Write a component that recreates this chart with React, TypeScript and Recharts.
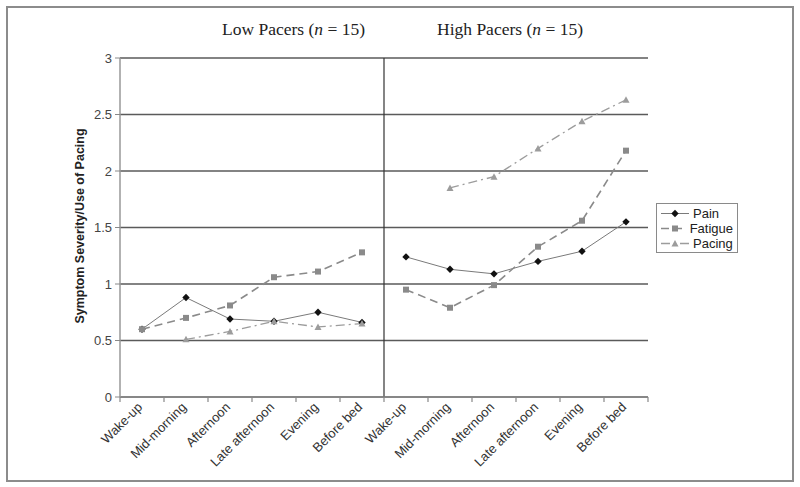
import * as React from "react";
import {
  LineChart,
  Line,
  XAxis,
  YAxis,
  CartesianGrid,
  ReferenceLine,
  Legend,
} from "recharts";

// times of day, repeated for each pacing group
const times = [
  "Wake-up",
  "Mid-morning",
  "Afternoon",
  "Late afternoon",
  "Evening",
  "Before bed",
];

const painLow = [0.6, 0.88, 0.69, 0.67, 0.75, 0.66];
const fatigueLow = [0.6, 0.7, 0.81, 1.06, 1.11, 1.28];
const pacingLow = [null, 0.51, 0.58, 0.67, 0.62, 0.65];

const painHigh = [1.24, 1.13, 1.09, 1.2, 1.29, 1.55];
const fatigueHigh = [0.95, 0.79, 0.99, 1.33, 1.56, 2.18];
const pacingHigh = [null, 1.85, 1.95, 2.2, 2.44, 2.63];

const yTicks = [0, 0.5, 1, 1.5, 2, 2.5, 3];

const allLabels = [...times, ...times];
// label ticks sit at the middle of each category, tick marks between them
const xTicks = Array.from({ length: 25 }, (_, i) => i / 2);

const data = allLabels.map((label, i) => {
  const low = i < times.length;
  const j = low ? i : i - times.length;
  return {
    x: i + 0.5,
    label,
    painL: low ? painLow[j] : null,
    fatigueL: low ? fatigueLow[j] : null,
    pacingL: low ? pacingLow[j] : null,
    painH: low ? null : painHigh[j],
    fatigueH: low ? null : fatigueHigh[j],
    pacingH: low ? null : pacingHigh[j],
  };
});

const SANS = "'Liberation Sans', Arial, sans-serif";
const SERIF = "'Liberation Serif', 'Times New Roman', serif";

const PAIN = { line: "#7a7a7a", mark: "#111111", dash: undefined as string | undefined, width: 1 };
const FATIGUE = { line: "#8a8a8a", mark: "#8a8a8a", dash: "8 5", width: 1.6 };
const PACING = { line: "#9c9c9c", mark: "#9c9c9c", dash: "9 4 2 4", width: 1.3 };

function diamond(props: any) {
  const { cx, cy, index } = props;
  if (cx == null || cy == null || props.value == null) return <g key={index} />;
  return (
    <path
      key={index}
      d={`M${cx},${cy - 3.7}L${cx + 3.7},${cy}L${cx},${cy + 3.7}L${cx - 3.7},${cy}Z`}
      fill={PAIN.mark}
    />
  );
}

function square(props: any) {
  const { cx, cy, index } = props;
  if (cx == null || cy == null || props.value == null) return <g key={index} />;
  return <rect key={index} x={cx - 3} y={cy - 3} width={6} height={6} fill={FATIGUE.mark} />;
}

function triangle(props: any) {
  const { cx, cy, index } = props;
  if (cx == null || cy == null || props.value == null) return <g key={index} />;
  return (
    <path
      key={index}
      d={`M${cx},${cy - 3.5}L${cx + 3.5},${cy + 3}L${cx - 3.5},${cy + 3}Z`}
      fill={PACING.mark}
    />
  );
}

function XTick(props: any) {
  const { x, y, payload } = props;
  const v = payload.value as number;
  if (Number.isInteger(v)) {
    return <line x1={x} y1={y} x2={x} y2={y + 5} stroke="#888" strokeWidth={1.2} />;
  }
  const label = allLabels[Math.floor(v)];
  return (
    <text
      x={x + 1}
      y={y + 11}
      transform={`rotate(-45, ${x + 1}, ${y + 11})`}
      textAnchor="end"
      fontFamily={SANS}
      fontSize={13}
      fill="#333"
    >
      {label}
    </text>
  );
}

const legendItems = [
  { name: "Pain", s: PAIN, marker: "diamond" },
  { name: "Fatigue", s: FATIGUE, marker: "square" },
  { name: "Pacing", s: PACING, marker: "triangle" },
];

function LegendBox() {
  return (
    <div
      style={{
        border: "1px solid #8a8a8a",
        background: "#fff",
        padding: "2px 4px 1px 3px",
        fontFamily: SANS,
        fontSize: 13,
        color: "#222",
        lineHeight: "15px",
      }}
    >
      {legendItems.map((it) => (
        <div key={it.name} style={{ display: "flex", alignItems: "center" }}>
          <svg width={30} height={15} style={{ marginRight: 3 }}>
            <line
              x1={1}
              y1={7.5}
              x2={29}
              y2={7.5}
              stroke={it.s.line}
              strokeWidth={it.s.width}
              strokeDasharray={it.s.dash}
            />
            {it.marker === "diamond" &&
              diamond({ cx: 15, cy: 7.5, value: 1, index: 0 })}
            {it.marker === "square" &&
              square({ cx: 15, cy: 7.5, value: 1, index: 0 })}
            {it.marker === "triangle" &&
              triangle({ cx: 15, cy: 7.5, value: 1, index: 0 })}
          </svg>
          <span>{it.name}</span>
        </div>
      ))}
    </div>
  );
}

export default function App() {
  return (
    <div
      style={{
        position: "absolute",
        left: 0,
        top: 0,
        width: 800,
        height: 487,
        background: "#fff",
      }}
    >
      <div
        style={{
          position: "absolute",
          left: 6,
          top: 6,
          width: 784,
          height: 472,
          border: "2px solid #8c8c8c",
        }}
      />
      <div
        style={{
          position: "absolute",
          left: 0,
          top: 19,
          width: 800,
          fontFamily: SERIF,
          fontSize: 17.5,
          color: "#222",
        }}
      >
        <span style={{ position: "absolute", left: 222 }}>
          Low Pacers (<i>n</i> = 15)
        </span>
        <span style={{ position: "absolute", left: 437 }}>
          High Pacers (<i>n</i> = 15)
        </span>
      </div>
      <LineChart
        width={800}
        height={487}
        data={data}
        margin={{ top: 58, right: 152, bottom: 30, left: 60 }}
        style={{ position: "absolute", left: 0, top: 0 }}
      >
        <CartesianGrid
          horizontal
          vertical={false}
          stroke="#5a5a5a"
          strokeWidth={1.3}
        />
        <XAxis
          dataKey="x"
          type="number"
          domain={[0, 12]}
          ticks={xTicks}
          interval={0}
          height={60}
          tickLine={false}
          tickSize={0}
          tickMargin={0}
          axisLine={{ stroke: "#888", strokeWidth: 1.5 }}
          tick={<XTick />}
        />
        <YAxis
          domain={[0, 3]}
          ticks={yTicks}
          width={60}
          tickSize={5}
          tickMargin={3}
          axisLine={{ stroke: "#999", strokeWidth: 1.5 }}
          tickLine={{ stroke: "#888" }}
          tick={{ fontFamily: SANS, fontSize: 13, fill: "#444" }}
          label={{
            content: () => (
              <text
                x={84}
                y={226}
                transform="rotate(-90, 84, 226)"
                textAnchor="middle"
                fontFamily={SANS}
                fontWeight="bold"
                fontSize={12.5}
                fill="#222"
              >
                Symptom Severity/Use of Pacing
              </text>
            ),
          }}
        />
        <YAxis
          yAxisId="r"
          orientation="right"
          domain={[0, 3]}
          width={0}
          tick={false}
          tickLine={false}
          axisLine={{ stroke: "#aaa", strokeWidth: 2 }}
        />
        <ReferenceLine x={6} stroke="#333" strokeWidth={1.2} />
        <Legend
          layout="vertical"
          align="center"
          verticalAlign="middle"
          wrapperStyle={{ left: 656, top: 203, width: 82 }}
          content={() => <LegendBox />}
        />

        <Line dataKey="painL" name="Pain" stroke={PAIN.line} strokeWidth={PAIN.width} dot={diamond} activeDot={false} isAnimationActive={false} />
        <Line dataKey="fatigueL" name="Fatigue" stroke={FATIGUE.line} strokeWidth={FATIGUE.width} strokeDasharray={FATIGUE.dash} dot={square} activeDot={false} isAnimationActive={false} />
        <Line dataKey="pacingL" name="Pacing" stroke={PACING.line} strokeWidth={PACING.width} strokeDasharray={PACING.dash} dot={triangle} activeDot={false} isAnimationActive={false} />
        <Line dataKey="painH" name="Pain" legendType="none" stroke={PAIN.line} strokeWidth={PAIN.width} dot={diamond} activeDot={false} isAnimationActive={false} />
        <Line dataKey="fatigueH" name="Fatigue" legendType="none" stroke={FATIGUE.line} strokeWidth={FATIGUE.width} strokeDasharray={FATIGUE.dash} dot={square} activeDot={false} isAnimationActive={false} />
        <Line dataKey="pacingH" name="Pacing" legendType="none" stroke={PACING.line} strokeWidth={PACING.width} strokeDasharray={PACING.dash} dot={triangle} activeDot={false} isAnimationActive={false} />
      </LineChart>
    </div>
  );
}
